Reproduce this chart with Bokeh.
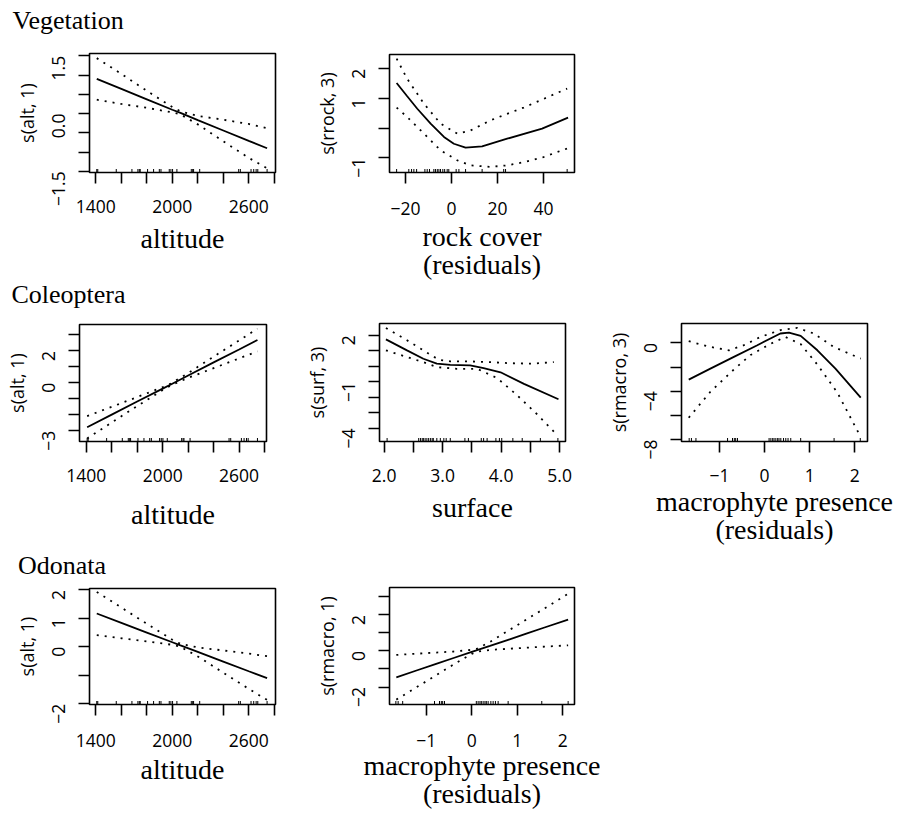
import math
from bokeh.plotting import figure
from bokeh.layouts import column, row
from bokeh.models import FixedTicker, Spacer, Label
from bokeh.embed import file_html
from bokeh.resources import INLINE

# ---------------- data ----------------
ALT_RUG = [1407, 1415, 1560, 1683, 1730, 1741, 1748, 1806, 1853, 1898, 1911, 1976, 1989,
           2002, 2036, 2149, 2160, 2167, 2215, 2521, 2534, 2618, 2639, 2658, 2671, 2744]
ROCK_RUG = [-23.9, -18.6, -17.4, -16.4, -15.2, -11.6, -10.6, -9.6, -7.7, -7.0, -6.2, -5.5,
            -4.8, -3.8, -3.0, -1.9, -1.2, 2.0, 3.2, 6.1, 13.3, 22.7, 23.5, 50.3]
SURF_RUG = [2.05, 2.59, 2.62, 2.65, 2.67, 2.70, 2.73, 2.76, 2.79, 2.82, 2.84, 2.90, 2.96,
            3.02, 3.06, 3.13, 3.38, 3.44, 3.66, 3.70, 3.76, 3.91, 3.97, 4.01, 4.20, 4.36,
            4.67, 4.97]
MACRO_RUG = [-1.67, -1.62, -1.52, -0.82, -0.71, -0.67, -0.64, -0.60, 0.10, 0.14, 0.18, 0.21,
             0.25, 0.29, 0.32, 0.36, 0.42, 0.47, 0.52, 0.58, 0.80, 1.54, 2.12]

# Vegetation ~ altitude
VEG_ALT_X = [1407, 1600, 1800, 2000, 2064, 2200, 2400, 2600, 2744]
VEG_ALT_FIT = [0.90, 0.64, 0.37, 0.10, 0.02, -0.17, -0.44, -0.71, -0.90]
VEG_ALT_UP = [1.44, 1.03, 0.59, 0.17, 0.06, -0.06, -0.16, -0.27, -0.38]
VEG_ALT_LO = [0.36, 0.25, 0.15, 0.03, -0.02, -0.28, -0.72, -1.15, -1.42]

# Vegetation ~ rock cover residuals
VEG_ROCK_X = [-23.9, -19.3, -14.9, -9.1, -3.3, 1.0, 6.1, 13.3, 24.2, 39.4, 50.7]
VEG_ROCK_FIT = [1.52, 1.07, 0.65, 0.15, -0.30, -0.53, -0.66, -0.62, -0.36, -0.02, 0.35]
VEG_ROCK_CX = [-23.9, -19.3, -12.0, -4.8, 2.5, 8.3, 17.0, 24.2, 31.4, 40.0, 50.3]
VEG_ROCK_UP = [2.34, 1.66, 0.82, 0.15, -0.19, -0.08, 0.26, 0.48, 0.69, 0.98, 1.33]
VEG_ROCK_LO = [0.69, 0.37, -0.19, -0.75, -1.09, -1.26, -1.31, -1.26, -1.15, -0.98, -0.69]

# Coleoptera ~ altitude
COL_ALT_X = [1407, 1600, 1800, 2000, 2064, 2200, 2400, 2600, 2744]
COL_ALT_FIT = [-2.78, -1.99, -1.17, -0.36, -0.10, 0.46, 1.28, 2.09, 2.68]
COL_ALT_UP = [-2.08, -1.50, -0.89, -0.27, -0.04, 0.61, 1.64, 2.65, 3.39]
COL_ALT_LO = [-3.48, -2.48, -1.45, -0.45, -0.16, 0.31, 0.92, 1.53, 1.97]

# Coleoptera ~ surface
COL_SURF_X = [2.03, 2.39, 2.67, 2.90, 3.13, 3.47, 3.70, 3.99, 4.39, 4.98]
COL_SURF_FIT = [1.74, 1.03, 0.49, 0.17, 0.10, 0.06, -0.12, -0.38, -1.13, -2.12]
COL_SURF_UX = [2.03, 2.39, 2.67, 2.93, 3.13, 3.47, 3.82, 4.10, 4.50, 4.90]
COL_SURF_UP = [2.47, 1.68, 1.03, 0.43, 0.32, 0.32, 0.27, 0.21, 0.17, 0.27]
COL_SURF_LX = [2.03, 2.39, 2.67, 2.90, 3.24, 3.59, 3.93, 4.27, 4.61, 4.96]
COL_SURF_LO = [1.03, 0.60, 0.27, -0.05, -0.16, -0.16, -0.75, -1.85, -3.07, -4.43]

# Coleoptera ~ macrophyte residuals
COL_MAC_X = [-1.68, -1.20, -0.68, -0.16, 0.35, 0.54, 0.80, 1.17, 1.57, 2.13]
COL_MAC_FIT = [-3.04, -2.13, -1.16, -0.19, 0.78, 0.86, 0.58, -0.61, -2.13, -4.54]
COL_MAC_UX = [-1.68, -1.20, -0.79, -0.46, -0.09, 0.35, 0.72, 1.09, 1.53, 2.13]
COL_MAC_UP = [0.14, -0.33, -0.61, -0.19, 0.50, 1.06, 1.25, 0.78, -0.33, -1.30]
COL_MAC_LX = [-1.68, -1.20, -0.68, -0.31, 0.13, 0.46, 0.80, 1.17, 1.61, 2.13]
COL_MAC_LO = [-6.20, -4.05, -2.20, -1.00, -0.08, 0.50, -0.10, -1.80, -4.10, -7.80]

# Odonata ~ altitude
ODO_ALT_X = [1407, 1600, 1800, 2000, 2064, 2200, 2400, 2600, 2744]
ODO_ALT_FIT = [1.17, 0.84, 0.50, 0.16, 0.05, -0.18, -0.52, -0.86, -1.10]
ODO_ALT_UP = [1.93, 1.38, 0.81, 0.25, 0.10, -0.02, -0.13, -0.24, -0.33]
ODO_ALT_LO = [0.41, 0.30, 0.19, 0.07, 0.00, -0.34, -0.91, -1.48, -1.87]

# Odonata ~ macrophyte residuals
ODO_MAC_X = [-1.66, -1.20, -0.80, -0.40, 0.00, 0.10, 0.40, 0.80, 1.20, 1.60, 2.12]
ODO_MAC_FIT = [-1.46, -1.07, -0.73, -0.39, -0.05, 0.03, 0.28, 0.62, 0.96, 1.30, 1.74]
ODO_MAC_UP = [-0.22, -0.15, -0.09, -0.03, 0.06, 0.11, 0.50, 1.12, 1.74, 2.36, 3.17]
ODO_MAC_LO = [-2.70, -1.99, -1.37, -0.75, -0.16, -0.05, 0.06, 0.12, 0.18, 0.24, 0.31]

# tick values and labels
ALT_TICKS = [1400, 1600, 1800, 2000, 2200, 2400, 2600, 2800]
ALT_LABELS = ["1400", "", "", "2000", "", "", "2600", ""]
ROCK_TICKS = [-20, 0, 20, 40]
ROCK_LABELS = ["\u221220", "0", "20", "40"]
SURF_TICKS = [2.0, 2.5, 3.0, 3.5, 4.0, 4.5, 5.0]
SURF_LABELS = ["2.0", "", "3.0", "", "4.0", "", "5.0"]
MAC_TICKS = [-1, 0, 1, 2]
MAC_LABELS = ["\u22121", "0", "1", "2"]

Y1_TICKS = [-1.5, -1.0, -0.5, 0.0, 0.5, 1.0, 1.5]
Y1_LABELS = ["\u22121.5", "", "", "0.0", "", "", "1.5"]
Y2_TICKS = [-1, 0, 1, 2]
Y2_LABELS = ["\u22121", "", "1", "2"]
Y3_TICKS = [-3, -2, -1, 0, 1, 2, 3]
Y3_LABELS = ["\u22123", "", "", "0", "", "2", ""]
Y4_TICKS = [-4, -3, -2, -1, 0, 1, 2]
Y4_LABELS = ["\u22124", "", "", "\u22121", "", "", "2"]
Y5_TICKS = [-8, -6, -4, -2, 0]
Y5_LABELS = ["\u22128", "", "\u22124", "", "0"]
Y6_TICKS = [-2, -1, 0, 1, 2]
Y6_LABELS = ["\u22122", "", "0", "1", "2"]
Y7_TICKS = [-2, -1, 0, 1, 2, 3]
Y7_LABELS = ["\u22122", "", "0", "", "2", ""]

SERIF = "Liberation Serif"
SANS = "Open Sans"
LW = 1.6


def no_align(fig):
    try:
        fig.frame_align = False
    except Exception:
        pass


def header(width, height, text, x, y):
    h = figure(width=width, height=height, x_axis_type=None, y_axis_type=None,
               output_backend="svg", toolbar_location=None, min_border=0,
               min_border_left=0, min_border_right=0, min_border_top=0,
               min_border_bottom=0)
    no_align(h)
    h.outline_line_color = None
    h.background_fill_color = "white"
    h.border_fill_color = "white"
    h.add_layout(Label(x=x, y=y, x_units="screen", y_units="screen", text=text,
                       text_font=SERIF, text_font_size="26px", text_color="black",
                       text_baseline="alphabetic", text_align="left"))
    return h


def panel(width, height, borders, xr, yr, xticks, xlabels, yticks, ylabels,
          xlab, ylab, xlab_standoff, tick_standoff, fx, ffit, ux, up, lx, lo, rug):
    left, right, top, bottom = borders
    p = figure(width=width, height=height, x_range=xr, y_range=yr,
               output_backend="svg", toolbar_location=None,
               min_border_left=left, min_border_right=right,
               min_border_top=top, min_border_bottom=bottom)
    no_align(p)
    p.grid.visible = False
    p.outline_line_color = "black"
    p.outline_line_width = LW
    p.outline_line_alpha = 1.0
    p.background_fill_color = "white"
    p.border_fill_color = "white"

    for ax, ticks, labels in ((p.xaxis[0], xticks, xlabels), (p.yaxis[0], yticks, ylabels)):
        ax.ticker = FixedTicker(ticks=ticks, minor_ticks=[])
        ax.major_label_overrides = {t: l for t, l in zip(ticks, labels)}
        ax.axis_line_color = None
        ax.major_tick_line_color = "black"
        ax.major_tick_line_width = LW
        ax.major_tick_out = 11
        ax.major_tick_in = 0
        ax.minor_tick_line_color = None
        ax.major_label_text_font = SANS
        ax.major_label_text_font_size = "17.5px"
        ax.major_label_text_color = "black"

    p.yaxis.major_label_orientation = math.pi / 2
    p.yaxis.major_label_standoff = 20
    p.xaxis.major_label_standoff = tick_standoff

    p.xaxis.axis_label = xlab
    p.xaxis.axis_label_text_font = SERIF
    p.xaxis.axis_label_text_font_size = "28px"
    p.xaxis.axis_label_text_font_style = "normal"
    p.xaxis.axis_label_text_color = "black"
    p.xaxis.axis_label_text_line_height = 0.93
    p.xaxis.axis_label_standoff = xlab_standoff

    p.yaxis.axis_label = ylab
    p.yaxis.axis_label_text_font = SANS
    p.yaxis.axis_label_text_font_size = "18px"
    p.yaxis.axis_label_text_font_style = "normal"
    p.yaxis.axis_label_text_color = "black"
    p.yaxis.axis_label_standoff = 4

    p.line(ux, up, line_color="black", line_width=1.8, line_dash="2 6")
    p.line(lx, lo, line_color="black", line_width=1.8, line_dash="2 6")
    p.line(fx, ffit, line_color="black", line_width=1.8)
    p.scatter(rug, [yr[0]] * len(rug), marker="dash", angle=math.pi / 2, size=7,
              line_color="black", line_width=1)
    return p


# ---- column 1 ----
h1 = header(300, 40, "Vegetation", 12, 19.7)
p1 = panel(300, 232, (89, 25, 13, 100), (1350, 2810), (-1.53, 1.56),
           ALT_TICKS, ALT_LABELS, Y1_TICKS, Y1_LABELS, "altitude", "s(alt, 1)", 7, 16,
           VEG_ALT_X, VEG_ALT_FIT, VEG_ALT_X, VEG_ALT_UP, VEG_ALT_X, VEG_ALT_LO, ALT_RUG)
h2 = header(300, 40, "Coleoptera", 11, 18)
p3 = panel(300, 231, (79, 34, 12, 102), (1347, 2815), (-3.67, 3.65),
           ALT_TICKS, ALT_LABELS, Y3_TICKS, Y3_LABELS, "altitude", "s(alt, 1)", 14, 16,
           COL_ALT_X, COL_ALT_FIT, COL_ALT_X, COL_ALT_UP, COL_ALT_X, COL_ALT_LO, ALT_RUG)
h3 = header(300, 36, "Odonata", 17.5, 13.7)
p6 = panel(300, 227, (89, 25, 9, 102), (1350, 2810), (-2.03, 2.05),
           ALT_TICKS, ALT_LABELS, Y6_TICKS, Y6_LABELS, "altitude", "s(alt, 1)", 4, 18,
           ODO_ALT_X, ODO_ALT_FIT, ODO_ALT_X, ODO_ALT_UP, ODO_ALT_X, ODO_ALT_LO, ALT_RUG)

# ---- column 2 ----
p2 = panel(300, 290, (89, 26, 54, 118), (-27, 53.5), (-1.5, 2.48),
           ROCK_TICKS, ROCK_LABELS, Y2_TICKS, Y2_LABELS, "rock cover\n(residuals)",
           "s(rrock, 3)", 3, 18,
           VEG_ROCK_X, VEG_ROCK_FIT, VEG_ROCK_CX, VEG_ROCK_UP, VEG_ROCK_CX, VEG_ROCK_LO,
           ROCK_RUG)
p4 = panel(300, 260, (79, 35, 33, 109), (1.92, 5.1), (-4.84, 2.76),
           SURF_TICKS, SURF_LABELS, Y4_TICKS, Y4_LABELS, "surface", "s(surf, 3)", 7, 16,
           COL_SURF_X, COL_SURF_FIT, COL_SURF_UX, COL_SURF_UP, COL_SURF_LX, COL_SURF_LO,
           SURF_RUG)
p7 = panel(300, 262, (89, 26, 37, 108), (-1.81, 2.26), (-2.97, 3.52),
           MAC_TICKS, MAC_LABELS, Y7_TICKS, Y7_LABELS, "macrophyte presence\n(residuals)",
           "s(rmacro, 1)", 0, 18,
           ODO_MAC_X, ODO_MAC_FIT, ODO_MAC_X, ODO_MAC_UP, ODO_MAC_X, ODO_MAC_LO, MACRO_RUG)

# ---- column 3 ----
p5 = panel(298, 260, (81, 31, 33, 109), (-1.84, 2.28), (-8.17, 1.61),
           MAC_TICKS, MAC_LABELS, Y5_TICKS, Y5_LABELS, "macrophyte presence\n(residuals)",
           "s(rmacro, 3)", 1, 16,
           COL_MAC_X, COL_MAC_FIT, COL_MAC_UX, COL_MAC_UP, COL_MAC_LX, COL_MAC_LO,
           MACRO_RUG)

layout = row(column(h1, p1, h2, p3, h3, p6),
             column(p2, p4, p7),
             column(Spacer(width=298, height=290), p5))
open("out.html", "w").write(file_html(layout, INLINE))
